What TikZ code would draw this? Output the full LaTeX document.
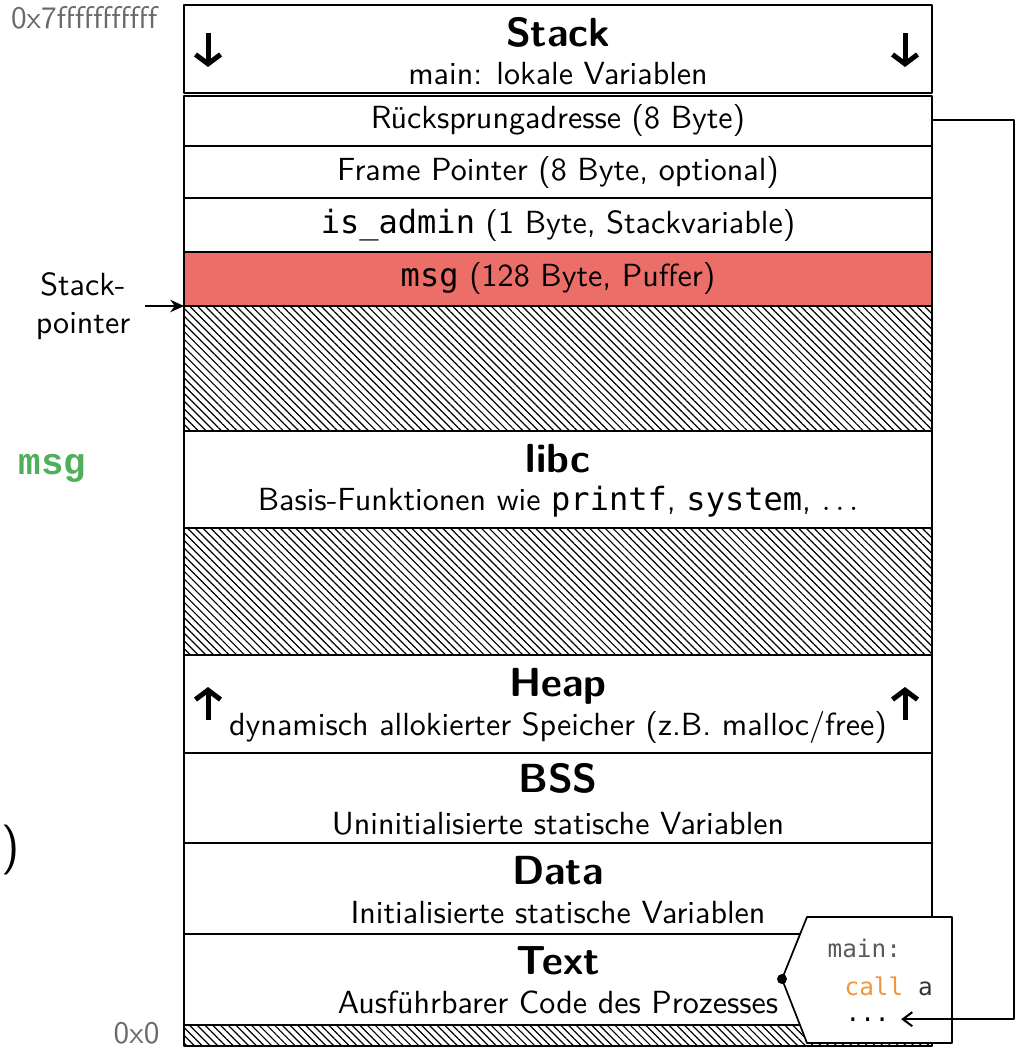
\documentclass[tikz,border=0pt]{standalone}
\usepackage{fontspec}
\setmonofont{DejaVu Sans Mono}
\newfontfamily\markfont{Liberation Mono}
\usetikzlibrary{arrows.meta,patterns.meta}
\definecolor{puffer}{RGB}{236,110,104}
\definecolor{markgreen}{RGB}{80,175,90}
\definecolor{codeorange}{RGB}{242,150,60}
\definecolor{addrgray}{RGB}{105,105,105}
\definecolor{codegray}{RGB}{90,90,90}
\begin{document}
\begin{tikzpicture}[x=0.32pt,y=-0.32pt,line join=round,>=Stealth]
	\tikzset{every node/.style={font=\sffamily\fontsize{10.25}{12.3}\selectfont,inner sep=0pt},
		segment/.style={draw,line width=0.62pt},
		freespace/.style={segment,pattern={Lines[angle=-45,distance=1.75pt,line width=0.38pt]}},
		title/.style={font=\sffamily\bfseries\fontsize{13}{15}\selectfont},
		growarrow/.style={line width=1.6pt,-{Straight Barb[length=3pt,width=8pt]}},
		addr/.style={text=addrgray,font=\sffamily\fontsize{10}{12}\selectfont},
		code/.style={text=codegray,font=\ttfamily\fontsize{7.8}{9}\selectfont,anchor=base west}}
	\useasboundingbox (0,0) rectangle (1026,1060);
	% Segmente des Adressraums
	\draw[segment] (184,5) rectangle (932,93);
	\foreach \top/\bot in {96/146,146/198,198/252}
	\draw[segment] (184,\top) rectangle (932,\bot);
	\draw[segment,fill=puffer] (184,252) rectangle (932,306);
	\draw[freespace] (184,306) rectangle (932,431);
	\draw[segment] (184,431) rectangle (932,528);
	\draw[freespace] (184,528) rectangle (932,655);
	\foreach \top/\bot in {655/753,753/843,843/934,934/1025}
	\draw[segment] (184,\top) rectangle (932,\bot);
	\draw[freespace] (184,1025) rectangle (932,1046);
	% Beschriftungen
	\node[title,anchor=base] (stack) at (558,46) {Stack};
	\node[anchor=base] (stackdesc) at (558,84) {main: lokale Variablen};
	\node[anchor=base] (ret) at (558,128) {Rücksprungadresse (8 Byte)};
	\node[anchor=base] (fp) at (558,180) {Frame Pointer (8 Byte, optional)};
	\node[anchor=base] (admin) at (558,233) {\texttt{is\_admin} (1 Byte, Stackvariable)};
	\node[anchor=base] (buf) at (558,286) {\texttt{msg} (128 Byte, Puffer)};
	\node[title,anchor=base] (libc) at (558,472) {libc};
	\node[anchor=base] (libcdesc) at (558,510) {Basis-Funktionen wie \texttt{printf}, \texttt{system}, $\ldots$};
	\node[title,anchor=base] (heap) at (558,696) {Heap};
	\node[anchor=base] (heapdesc) at (558,735) {dynamisch allokierter Speicher (z.B. malloc/free)};
	\node[title,anchor=base] (bss) at (558,792) {BSS};
	\node[anchor=base] (bssdesc) at (558,834) {Uninitialisierte statische Variablen};
	\node[title,anchor=base] (data) at (558,884) {Data};
	\node[anchor=base] (datadesc) at (558,923) {Initialisierte statische Variablen};
	\node[title,anchor=base] (text) at (558,974) {Text};
	\node[anchor=base] (textdesc) at (558,1013) {Ausführbarer Code des Prozesses};
	% Wachstumsrichtung
	\foreach \x in {208,905} {
		\draw[growarrow] (\x,33) -- (\x,67);
		\draw[growarrow] (\x,720) -- (\x,687);
	}
	% Adressen und Stackpointer
	\node[addr,anchor=base east] (top) at (158,28) {0x7fffffffffff};
	\node[addr,anchor=base east] (bottom) at (160,1043) {0x0};
	\node[align=center] (splabel) at (83,306) {Stack-\\pointer};
	\coordinate (sp) at (184,306);
	\draw[line width=0.7pt,-{Stealth[length=4.4pt,width=4pt]}] ([xshift=4.5pt]splabel.east) -- (sp);
	\node[anchor=base west,text=markgreen,font=\markfont\bfseries\fontsize{12}{14}\selectfont] (mark) at (18,474) {msg};
	\node[anchor=base east,font=\sffamily\fontsize{16}{19}\selectfont] (paren) at (20,862) {)};
	% Code-Ausschnitt
	\draw[line width=0.55pt,fill=white] (807,917) -- (952,917) -- (952,1043) -- (807,1043) -- (782,979) -- cycle;
	\fill (782,979) circle[radius=1.6pt];
	\node[code] (mainlbl) at (827,957) {main:};
	\node[code,text=black!80] (call) at (844,995) {\textcolor{codeorange}{call} a};
	\node[code,text=black] (dots) at (845,1021) {...};
	\coordinate (retR) at (932,120);
	\draw[line width=0.65pt,-{Straight Barb[length=3pt,width=4.5pt]}] (retR) -- ++(82,0) |- ([xshift=3.5pt]dots.east);
\end{tikzpicture}
\end{document}
